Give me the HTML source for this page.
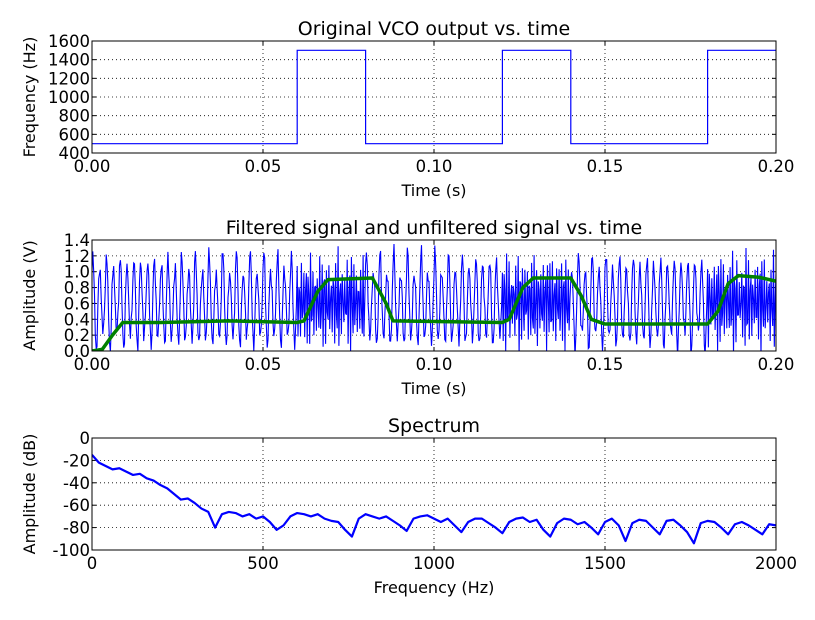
<!DOCTYPE html>
<html><head><meta charset="utf-8"><style>
body{margin:0;background:#fff}
svg{font-family:"DejaVu Sans","Liberation Sans",sans-serif}
</style></head><body>
<svg id="fig" width="815" height="615"></svg>
<script>
const vcoTimes=[0,0.06,0.08,0.12,0.14,0.18,0.2];
const vcoFreqs=[500,1500,500,1500,500,1500,1500];
const filtT=[0,0.003,0.006,0.009,0.02,0.04,0.06,0.062,0.066,0.069,0.082,0.086,0.088,0.12,0.122,0.126,0.129,0.14,0.143,0.146,0.15,0.18,0.183,0.186,0.189,0.195,0.2];
const filtV=[0,0.02,0.2,0.36,0.36,0.38,0.36,0.38,0.75,0.9,0.92,0.6,0.38,0.36,0.4,0.8,0.92,0.92,0.7,0.4,0.34,0.34,0.5,0.85,0.95,0.93,0.88];
const specF0=0, specDf=20;
const specDb=[-15,-22,-25,-28,-27,-30,-33,-32,-36,-38,-42,-45,-50,-55,-54,-58,-63,-66,-80,-68,-66,-67,-70,-68,-72,-70,-75,-82,-78,-70,-67,-68,-70,-68,-72,-74,-75,-82,-88,-72,-68,-70,-72,-70,-74,-78,-83,-72,-70,-69,-72,-75,-72,-78,-84,-75,-72,-72,-76,-80,-85,-75,-72,-71,-75,-73,-82,-88,-76,-72,-73,-77,-75,-80,-86,-75,-72,-78,-92,-76,-73,-74,-80,-86,-74,-73,-78,-84,-94,-76,-74,-75,-80,-86,-77,-75,-78,-82,-86,-77,-78];
const t1=["0.00","0.05","0.10","0.15","0.20"];
const y1=[400,600,800,1000,1200,1400,1600];
const y2=[0.0,0.2,0.4,0.6,0.8,1.0,1.2,1.4];
const x3=[0,500,1000,1500,2000];
const y3=[-100,-80,-60,-40,-20,0];

const NS="http://www.w3.org/2000/svg";
const svg=document.getElementById('fig');
function mk(tag,a,parent){const e=document.createElementNS(NS,tag);for(const k in a)e.setAttribute(k,a[k]);(parent||svg).appendChild(e);return e;}
const L=92,R=776;
function axes(top,bot,x0,x1,y0,y1v,xt,yt,title,xl,yl,name,yfmt){
  const g=mk('g',{});
  
  
  const sx=v=>L+(v-x0)/(x1-x0)*(R-L), sy=v=>bot-(v-y0)/(y1v-y0)*(bot-top);
  xt.forEach(v=>{const x=sx(+v);
    if(x>L+1&&x<R-1)mk('line',{x1:x,x2:x,y1:top,y2:bot,stroke:'#000','stroke-dasharray':'1,3','stroke-width':0.8},g);
    mk('line',{x1:x,x2:x,y1:bot,y2:bot-4,stroke:'#000'},g);mk('line',{x1:x,x2:x,y1:top,y2:top+4,stroke:'#000'},g);
    const t=mk('text',{x:x,y:bot+19,'font-size':16.5,'text-anchor':'middle'},g);t.textContent=v;
    });
  yt.forEach(v=>{const y=sy(v);
    if(y>top+1&&y<bot-1)mk('line',{x1:L,x2:R,y1:y,y2:y,stroke:'#000','stroke-dasharray':'1,3','stroke-width':0.8},g);
    mk('line',{x1:L,x2:L+4,y1:y,y2:y,stroke:'#000'},g);mk('line',{x1:R,x2:R-4,y1:y,y2:y,stroke:'#000'},g);
    const t=mk('text',{x:L-2,y:y+6,'font-size':16.5,'text-anchor':'end'},g);t.textContent=yfmt(v);
    });
  let t=mk('text',{x:(L+R)/2,y:top-6,'font-size':19,'text-anchor':'middle'},g);t.textContent=title;
  
  t=mk('text',{x:(L+R)/2,y:bot+43,'font-size':16,'text-anchor':'middle'},g);t.textContent=xl;
  
  const cy=(top+bot)/2;
  t=mk('text',{x:0,y:0,'font-size':16,'text-anchor':'middle',transform:`translate(35,${cy}) rotate(-90)`},g);t.textContent=yl;
  
  const cid='c'+name;const cp=mk('clipPath',{id:cid},g);mk('rect',{x:L,y:top,width:R-L,height:bot-top},cp);
  const plot=mk('g',{'clip-path':`url(#${cid})`},g);
  return {g,sx,sy,plot,frame:()=>mk('rect',{x:L,y:top,width:R-L,height:bot-top,fill:'none',stroke:'#000','stroke-width':1},g)};
}
// subplot 1
const a1=axes(41,153,0,0.2,400,1600,t1,y1,'Original VCO output vs. time','Time (s)','Frequency (Hz)','vco-axes',v=>v);
let d='';
for(let i=0;i<vcoTimes.length-1;i++){d+=(i?'L':'M')+a1.sx(vcoTimes[i])+','+a1.sy(vcoFreqs[i])+'L'+a1.sx(vcoTimes[i+1])+','+a1.sy(vcoFreqs[i]);}
let p=mk('path',{d:d,fill:'none',stroke:'#0000ff','stroke-width':1.2},a1.plot);

a1.frame();
// subplot 2
const a2=axes(240,351,0,0.2,0,1.4,t1,y2,'Filtered signal and unfiltered signal vs. time','Time (s)','Amplitude (V)','signal-axes',v=>v.toFixed(1));
function freqAt(t){for(let i=vcoTimes.length-2;i>=0;i--)if(t>=vcoTimes[i])return vcoFreqs[i];return vcoFreqs[0];}
const fs=4100;let ph=0;d='';
for(let n=0;n<=0.2*fs;n++){const t=n/fs;ph+=2*Math.PI*freqAt(t)/fs;
  const amp=0.5+0.12*Math.sin(n*0.37)+0.08*Math.sin(n*1.13+1);
  const v=0.62+amp*Math.sin(ph)+0.06*Math.sin(n*2.71);
  d+=(n?'L':'M')+a2.sx(t).toFixed(1)+','+a2.sy(v).toFixed(1);}
p=mk('path',{d:d,fill:'none',stroke:'#0000ff','stroke-width':1.1},a2.plot);

d=filtT.map((t,i)=>(i?'L':'M')+a2.sx(t)+','+a2.sy(filtV[i])).join('');
p=mk('path',{d:d,fill:'none',stroke:'#008000','stroke-width':3.5,'stroke-linejoin':'round'},a2.plot);

a2.frame();
// subplot 3
const a3=axes(438,550,0,2000,-100,0,x3,y3,'Spectrum','Frequency (Hz)','Amplitude (dB)','spectrum-axes',v=>v);
d=specDb.map((v,i)=>(i?'L':'M')+a3.sx(specF0+i*specDf)+','+a3.sy(v)).join('');
p=mk('path',{d:d,fill:'none',stroke:'#0000ff','stroke-width':2.2,'stroke-linejoin':'round'},a3.plot);

a3.frame();
</script>
</body></html>
